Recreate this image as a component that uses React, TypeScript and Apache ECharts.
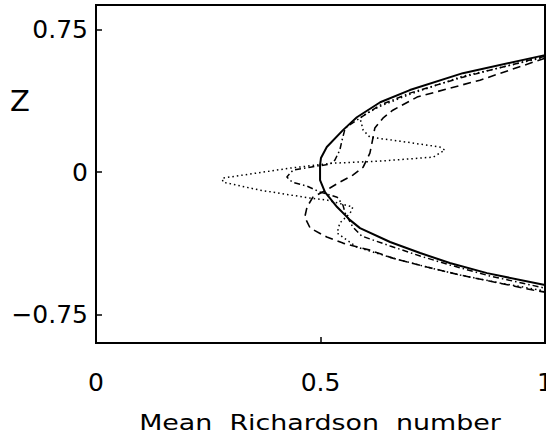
import React, { useEffect, useRef } from "react";
import * as echarts from "echarts";

// Mean Richardson number (x) vs Z (y)
const solidCurve: [number, number][] = [
  [1.0, 0.616], [0.817, 0.521], [0.699, 0.432], [0.633, 0.368], [0.581, 0.289],
  [0.55, 0.221], [0.514, 0.132], [0.501, 0.074], [0.499, 0.037], [0.499, -0.042],
  [0.51, -0.105], [0.537, -0.184], [0.566, -0.253], [0.588, -0.295], [0.655, -0.368],
  [0.722, -0.426], [0.788, -0.479], [0.871, -0.532], [1.0, -0.595],
];

const dashedCurve: [number, number][] = [
  [1.0, 0.6], [0.855, 0.484], [0.788, 0.442], [0.715, 0.395], [0.661, 0.326],
  [0.639, 0.284], [0.621, 0.232], [0.615, 0.158], [0.61, 0.1], [0.595, 0.026],
  [0.572, -0.016], [0.543, -0.053], [0.521, -0.084], [0.483, -0.132], [0.47, -0.184],
  [0.465, -0.237], [0.477, -0.295], [0.514, -0.342], [0.55, -0.374], [0.61, -0.411],
  [0.661, -0.453], [0.737, -0.5], [0.811, -0.542], [0.973, -0.621], [1.0, -0.632],
];

const dashDotCurve: [number, number][] = [
  [1.0, 0.61], [0.817, 0.5], [0.699, 0.416], [0.633, 0.353], [0.581, 0.274],
  [0.555, 0.232], [0.548, 0.168], [0.543, 0.116], [0.532, 0.063], [0.521, 0.042],
  [0.477, 0.026], [0.439, 0.011], [0.425, -0.026], [0.437, -0.053], [0.47, -0.074],
  [0.499, -0.105], [0.537, -0.132], [0.55, -0.174], [0.555, -0.216], [0.572, -0.289],
  [0.592, -0.337], [0.655, -0.389], [0.722, -0.442], [0.788, -0.489], [0.877, -0.547],
  [1.0, -0.611],
];

const dottedCurve: [number, number][] = [
  [1.0, 0.605], [0.817, 0.505], [0.699, 0.41], [0.633, 0.347], [0.604, 0.311],
  [0.588, 0.284], [0.595, 0.221], [0.61, 0.184], [0.677, 0.163], [0.766, 0.132],
  [0.777, 0.116], [0.751, 0.079], [0.633, 0.058], [0.528, 0.047], [0.432, 0.021],
  [0.281, -0.032], [0.283, -0.053], [0.365, -0.095], [0.477, -0.137], [0.514, -0.147],
  [0.572, -0.184], [0.566, -0.216], [0.543, -0.268], [0.537, -0.321], [0.581, -0.395],
  [0.661, -0.453], [0.737, -0.5], [0.811, -0.542], [0.9, -0.584], [1.0, -0.626],
];

const yTicks = [-0.75, 0, 0.75];
const xTicks = [0, 0.5, 1];
const xAxisTitle = "Mean  Richardson  number";
const yAxisTitle = "Z";

const FONT = "DejaVu Sans";

export default function App() {
  const ref = useRef<HTMLDivElement>(null);
  useEffect(() => {
    if (!ref.current) return;
    const chart = echarts.init(ref.current, undefined, { renderer: "svg" });
    const mkLine = (data: [number, number][], type: any, width: number) => ({
      type: "line",
      data,
      showSymbol: false,
      symbol: "none",
      clip: true,
      lineStyle: { color: "#000", width, type },
    });
    chart.setOption({
      animation: false,
      backgroundColor: "#fff",
      grid: {
        left: 96,
        right: 1,
        top: 5,
        bottom: 94,
        show: true,
        borderColor: "#000",
        borderWidth: 2,
        outerBoundsMode: "none",
      },
      xAxis: {
        type: "value",
        min: 0,
        max: 1,
        interval: 0.5,
        splitLine: { show: false },
        axisLine: { show: true, onZero: false, lineStyle: { color: "#000", width: 2 } },
        axisTick: {
          show: true,
          inside: true,
          length: 6,
          customValues: xTicks,
          lineStyle: { color: "#000", width: 1.5 },
        },
        axisLabel: {
          customValues: xTicks,
          margin: 27,
          fontFamily: FONT,
          fontSize: 25,
          color: "#000",
          formatter: (v: number) => String(v),
        },
      },
      yAxis: {
        type: "value",
        min: -0.9,
        max: 0.88,
        splitLine: { show: false },
        axisLine: { show: true, onZero: false, lineStyle: { color: "#000", width: 2 } },
        axisTick: {
          show: true,
          inside: true,
          length: 6,
          customValues: yTicks,
          lineStyle: { color: "#000", width: 1.5 },
        },
        axisLabel: {
          customValues: yTicks,
          margin: 8,
          fontFamily: FONT,
          fontSize: 25,
          color: "#000",
          formatter: (v: number) => String(v).replace("-", "\u2212"),
        },
      },
      graphic: [
        {
          type: "text",
          x: 320,
          y: 423,
          scaleX: 1.28,
          style: {
            text: xAxisTitle,
            x: 0,
            y: 0,
            fontFamily: FONT,
            fontSize: 21,
            fill: "#000",
            textAlign: "center",
            textVerticalAlign: "middle",
          },
        },
        {
          type: "text",
          x: 20,
          y: 101,
          style: {
            text: yAxisTitle,
            x: 0,
            y: 0,
            fontFamily: FONT,
            fontSize: 29,
            fill: "#000",
            textAlign: "center",
            textVerticalAlign: "middle",
          },
        },
      ],
      series: [
        mkLine(dottedCurve, [1.5, 3], 1.5),
        mkLine(dashDotCurve, [6, 3, 1.5, 3], 1.5),
        mkLine(dashedCurve, [8, 5], 1.6),
        mkLine(solidCurve, "solid", 2),
      ],
    });
    return () => chart.dispose();
  }, []);
  return (
    <div
      ref={ref}
      style={{ position: "absolute", left: 0, top: 0, width: 546, height: 437 }}
    />
  );
}
